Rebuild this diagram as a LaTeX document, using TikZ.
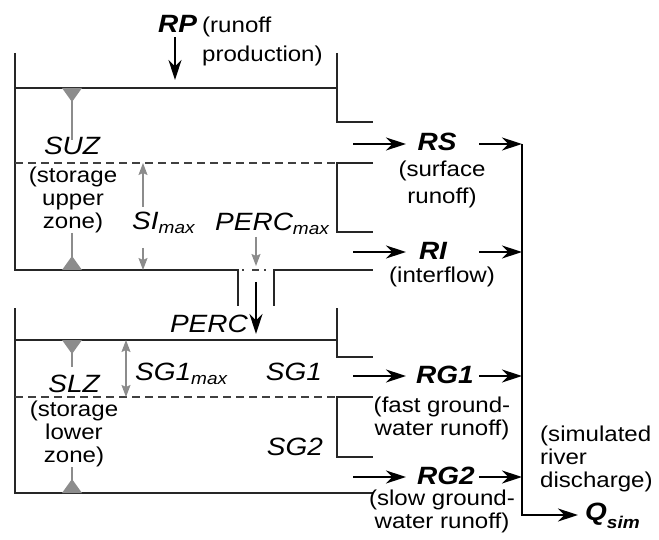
\documentclass[tikz,border=0pt]{standalone}
\usepackage{fontspec}
\setmainfont{Liberation Sans}[FakeStretch=1.12]
\usetikzlibrary{arrows.meta}
\newcommand{\lowsub}[2][4pt]{\raisebox{-#1}{\fontsize{17}{17}\selectfont #2}}

\begin{document}
\begin{tikzpicture}[x=1pt, y=-1pt, line join=miter,
	gtip/.tip={Stealth[length=12pt,width=9pt,inset=2pt]},
	wall/.style={line width=1.6pt, black!85},
	level/.style={line width=1.4pt, black!75, dash pattern=on 8pt off 5pt},
	flow/.style={line width=1.7pt, -{Stealth[length=20pt,width=13pt]}},
	gauge/.style={line width=1.4pt, black!45},
	note/.style={font=\fontsize{21.5}{23}\selectfont, inner sep=0pt, anchor=base, align=center},
	var/.style={font=\fontsize{25}{25}\selectfont\itshape, inner sep=0pt, anchor=base},
	flux/.style={font=\fontsize{25}{25}\selectfont\bfseries\itshape, inner sep=0pt, anchor=base}]
	\useasboundingbox (0,0) rectangle (659,540);
	
	% upper tank
	\draw[wall] (15,53) -- (15,270) -- (238,270) -- (238,306);
	\draw[wall] (274,306) -- (274,270) -- (373,270);
	\draw[wall] (15,88) -- (337,88);
	\draw[wall] (337,53) -- (337,122) -- (373,122);
	\draw[wall] (373,163) -- (337,163) -- (337,232) -- (373,232);
	\draw[level] (15,163) -- (337,163);
	\draw[line width=1.4pt, black!75, dash pattern=on 2pt off 8pt on 7pt off 5pt on 2pt off 20pt] (242,270) -- (274,270);
	
	% lower tank
	\draw[wall] (15,308) -- (15,493) -- (373,493);
	\draw[wall] (15,340) -- (337,340);
	\draw[wall] (337,308) -- (337,357) -- (373,357);
	\draw[wall] (373,397) -- (337,397) -- (337,457) -- (373,457);
	\draw[level] (15,397) -- (337,397);
	
	% level marks
	\fill[black!45] (62,88) -- (82,88) -- (72,102) -- cycle;
	\fill[black!45] (62,270) -- (82,270) -- (72,256) -- cycle;
	\fill[black!45] (62,340) -- (82,340) -- (72,354) -- cycle;
	\fill[black!45] (62,493) -- (82,493) -- (72,479) -- cycle;
	\draw[gauge] (72,101) -- (72,140);
	\draw[gauge] (72,233) -- (72,257);
	\draw[gauge] (72,353) -- (72,367);
	\draw[gauge] (72,467) -- (72,480);
	
	% gauges
	\draw[gauge, gtip-] (143,163) -- (143,207);
	\draw[gauge, -gtip] (143,248) -- (143,270);
	\draw[gauge, gtip-gtip] (126,340) -- (126,397);
	\draw[gauge, -gtip] (256,237) -- (256,266);
	
	% labels in the tanks (multi-line notes sit on their last line)
	\node[flux, anchor=base west] (rp) at (158,33) {RP};
	\node[note, anchor=base west, align=left] (rpnote) at (202,62) {(runoff\\[6pt]production)};
	\node[var] (suz) at (72,155) {SUZ};
	\node[note] (suznote) at (73,229) {(storage\\upper\\zone)};
	\node[var, anchor=base west] (simax) at (132,230) {SI\lowsub{max}};
	\node[var, anchor=base west] (percmax) at (215,231) {PERC\lowsub{max}};
	\node[var, anchor=base east] (perc) at (248,332) {PERC};
	\node[var] (slz) at (74,392) {SLZ};
	\node[note] (slznote) at (74,462) {(storage\\lower\\zone)};
	\node[var, anchor=base west] (sgmax) at (135,380) {SG1\lowsub{max}};
	\node[var] (sg1) at (294,380) {SG1};
	\node[var] (sg2) at (295,455) {SG2};
	
	% runoff components
	\node[flux] (rs) at (437,151) {RS};
	\node[note] (rsnote) at (442,204) {(surface\\[4pt]runoff)};
	\node[flux] (ri) at (433,260) {RI};
	\node[note] (rinote) at (442,283) {(interflow)};
	\node[flux] (rg1) at (445,383) {RG1};
	\node[note] (rg1note) at (442,435) {(fast ground-\\water runoff)};
	\node[flux] (rg2) at (446,484) {RG2};
	\node[note] (rg2note) at (442,528) {(slow ground-\\water runoff)};
	\node[note, anchor=base west, align=left] (simnote) at (540,487) {(simulated\\river\\discharge)};
	\node[flux, anchor=base west] (qsim) at (585,520) {Q\lowsub[8pt]{sim}};
	
	% flows
	\draw[flow] (175,37) -- (175,80);
	\draw[flow] (256,282) -- (256,334);
	\foreach \y in {144,252,376,477} {
		\draw[flow] (353,\y) -- (406,\y);
		\draw[flow] (479,\y) -- (522,\y);
	}
	\draw[flow] (522,144) -- (522,515) -- (578,515);
	
\end{tikzpicture}
\end{document}
